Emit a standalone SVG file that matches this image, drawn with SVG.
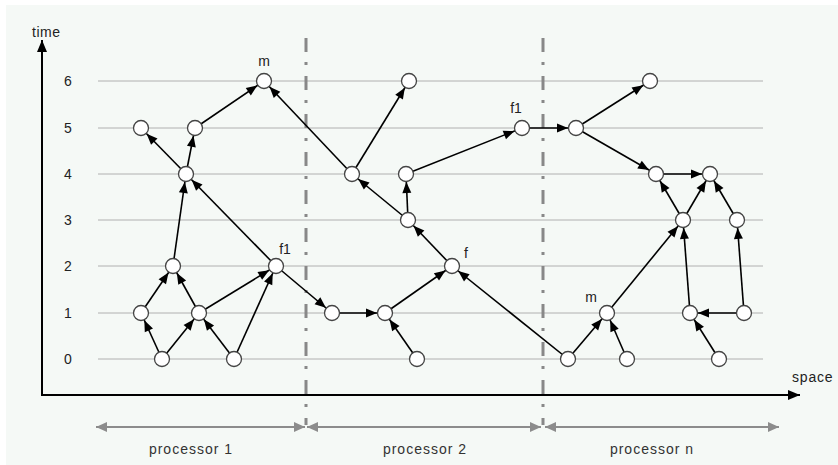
<svg xmlns="http://www.w3.org/2000/svg" width="838" height="465" viewBox="0 0 838 465">
<style>
.bg{fill:#f5f9f6}
.grid{stroke:#b0b0b0;stroke-width:1;fill:none}
.sep{stroke:#888;stroke-width:3;stroke-dasharray:14 10 3 11;fill:none}
.axis{stroke:#000;stroke-width:2;fill:none}
.span{stroke:#8c8c8c;stroke-width:2;fill:none}
.edge{stroke:#000;stroke-width:1.6;fill:none;marker-end:url(#ah)}
.node{fill:#fff;stroke:#444;stroke-width:1.3}
text{font-family:"Liberation Sans",Arial,sans-serif;font-size:14px;fill:#222}
.num{text-anchor:middle}
.proc{text-anchor:middle;fill:#333;letter-spacing:1px}
.lbl{text-anchor:middle}
</style>
<defs>
<marker id="ah" markerUnits="userSpaceOnUse" markerWidth="12" markerHeight="9" refX="19" refY="4.5" orient="auto" overflow="visible">
<path d="M0,0 L11,4.5 L0,9 z" fill="#000"/>
</marker>
<marker id="axh" markerUnits="userSpaceOnUse" markerWidth="12" markerHeight="10" refX="12" refY="5" orient="auto" overflow="visible">
<path d="M0,0 L12,5 L0,10 z" fill="#000"/>
</marker>
<marker id="gh" markerUnits="userSpaceOnUse" markerWidth="12" markerHeight="10" refX="11" refY="5" orient="auto" overflow="visible">
<path d="M0,0 L11,5 L0,10 z" fill="#8c8c8c"/>
</marker>
</defs>
<rect x="0" y="0" width="838" height="465" fill="#fff"/>
<rect class="bg" x="6" y="5" width="832" height="460"/>

<g id="grid">
<line class="grid" x1="98" y1="81" x2="763" y2="81"/>
<line class="grid" x1="98" y1="128" x2="763" y2="128"/>
<line class="grid" x1="98" y1="174" x2="763" y2="174"/>
<line class="grid" x1="98" y1="220" x2="763" y2="220"/>
<line class="grid" x1="98" y1="266" x2="763" y2="266"/>
<line class="grid" x1="98" y1="313" x2="763" y2="313"/>
<line class="grid" x1="98" y1="359" x2="763" y2="359"/>
</g>
<g id="ticks">
<text class="num" x="68" y="86">6</text>
<text class="num" x="68" y="133">5</text>
<text class="num" x="68" y="179">4</text>
<text class="num" x="68" y="225">3</text>
<text class="num" x="68" y="271">2</text>
<text class="num" x="68" y="318">1</text>
<text class="num" x="68" y="364">0</text>
</g>
<g id="separators">
<line class="sep" x1="306" y1="38" x2="306" y2="425"/>
<line class="sep" x1="543" y1="38" x2="543" y2="425"/>
</g>
<g id="axes">
<line class="axis" x1="42" y1="395" x2="42" y2="40" marker-end="url(#axh)"/>
<line class="axis" x1="41" y1="395" x2="800" y2="395" marker-end="url(#axh)"/>
<text x="32" y="37" letter-spacing="0.5">time</text>
<text x="792" y="382" letter-spacing="0.8">space</text>
</g>
<g id="spans">
<line class="span" x1="190" y1="427" x2="96" y2="427" marker-end="url(#gh)"/>
<line class="span" x1="190" y1="427" x2="305" y2="427" marker-end="url(#gh)"/>
<line class="span" x1="424" y1="427" x2="307" y2="427" marker-end="url(#gh)"/>
<line class="span" x1="424" y1="427" x2="541" y2="427" marker-end="url(#gh)"/>
<line class="span" x1="660" y1="427" x2="545" y2="427" marker-end="url(#gh)"/>
<line class="span" x1="660" y1="427" x2="779" y2="427" marker-end="url(#gh)"/>
<text class="proc" x="191" y="454">processor 1</text>
<text class="proc" x="425" y="454">processor 2</text>
<text class="proc" x="652" y="454">processor n</text>
</g>

<g id="connectors">
<line class="edge" x1="162" y1="359" x2="141" y2="313"/>
<line class="edge" x1="162" y1="359" x2="199" y2="313"/>
<line class="edge" x1="234" y1="359" x2="199" y2="313"/>
<line class="edge" x1="234" y1="359" x2="276" y2="266"/>
<line class="edge" x1="141" y1="313" x2="173" y2="266"/>
<line class="edge" x1="199" y1="313" x2="173" y2="266"/>
<line class="edge" x1="199" y1="313" x2="276" y2="266"/>
<line class="edge" x1="173" y1="266" x2="186" y2="174"/>
<line class="edge" x1="276" y1="266" x2="186" y2="174"/>
<line class="edge" x1="186" y1="174" x2="141" y2="128"/>
<line class="edge" x1="186" y1="174" x2="195" y2="128"/>
<line class="edge" x1="195" y1="128" x2="264" y2="81"/>
<line class="edge" x1="276" y1="266" x2="332" y2="313"/>
<line class="edge" x1="352" y1="174" x2="264" y2="81"/>
<line class="edge" x1="332" y1="313" x2="385" y2="313"/>
<line class="edge" x1="417" y1="359" x2="385" y2="313"/>
<line class="edge" x1="385" y1="313" x2="452" y2="266"/>
<line class="edge" x1="452" y1="266" x2="408" y2="220"/>
<line class="edge" x1="408" y1="220" x2="352" y2="174"/>
<line class="edge" x1="408" y1="220" x2="406" y2="174"/>
<line class="edge" x1="406" y1="174" x2="522" y2="128"/>
<line class="edge" x1="352" y1="174" x2="409" y2="81"/>
<line class="edge" x1="568" y1="359" x2="452" y2="266"/>
<line class="edge" x1="522" y1="128" x2="576" y2="128"/>
<line class="edge" x1="576" y1="128" x2="650" y2="81"/>
<line class="edge" x1="576" y1="128" x2="656" y2="174"/>
<line class="edge" x1="656" y1="174" x2="710" y2="174"/>
<line class="edge" x1="683" y1="220" x2="656" y2="174"/>
<line class="edge" x1="683" y1="220" x2="710" y2="174"/>
<line class="edge" x1="737" y1="220" x2="710" y2="174"/>
<line class="edge" x1="568" y1="359" x2="607" y2="313"/>
<line class="edge" x1="627" y1="359" x2="607" y2="313"/>
<line class="edge" x1="607" y1="313" x2="683" y2="220"/>
<line class="edge" x1="690" y1="313" x2="683" y2="220"/>
<line class="edge" x1="744" y1="313" x2="690" y2="313"/>
<line class="edge" x1="744" y1="313" x2="737" y2="220"/>
<line class="edge" x1="719" y1="359" x2="690" y2="313"/>
</g>

<g id="n1"><circle class="node" cx="162" cy="359" r="7.5"/></g>
<g id="n2"><circle class="node" cx="234" cy="359" r="7.5"/></g>
<g id="n3"><circle class="node" cx="141" cy="313" r="7.5"/></g>
<g id="n4"><circle class="node" cx="199" cy="313" r="7.5"/></g>
<g id="n5"><circle class="node" cx="173" cy="266" r="7.5"/></g>
<g id="n6"><circle class="node" cx="276" cy="266" r="7.5"/><text class="lbl" x="285" y="254">f1</text></g>
<g id="n7"><circle class="node" cx="186" cy="174" r="7.5"/></g>
<g id="n8"><circle class="node" cx="141" cy="128" r="7.5"/></g>
<g id="n9"><circle class="node" cx="195" cy="128" r="7.5"/></g>
<g id="n10"><circle class="node" cx="264" cy="81" r="7.5"/><text class="lbl" x="264" y="66">m</text></g>
<g id="n11"><circle class="node" cx="332" cy="313" r="7.5"/></g>
<g id="n12"><circle class="node" cx="385" cy="313" r="7.5"/></g>
<g id="n13"><circle class="node" cx="417" cy="359" r="7.5"/></g>
<g id="n14"><circle class="node" cx="452" cy="266" r="7.5"/><text class="lbl" x="466" y="258">f</text></g>
<g id="n15"><circle class="node" cx="408" cy="220" r="7.5"/></g>
<g id="n16"><circle class="node" cx="352" cy="174" r="7.5"/></g>
<g id="n17"><circle class="node" cx="406" cy="174" r="7.5"/></g>
<g id="n18"><circle class="node" cx="409" cy="81" r="7.5"/></g>
<g id="n19"><circle class="node" cx="522" cy="128" r="7.5"/><text class="lbl" x="516" y="113">f1</text></g>
<g id="n20"><circle class="node" cx="576" cy="128" r="7.5"/></g>
<g id="n21"><circle class="node" cx="650" cy="81" r="7.5"/></g>
<g id="n22"><circle class="node" cx="656" cy="174" r="7.5"/></g>
<g id="n23"><circle class="node" cx="710" cy="174" r="7.5"/></g>
<g id="n24"><circle class="node" cx="683" cy="220" r="7.5"/></g>
<g id="n25"><circle class="node" cx="737" cy="220" r="7.5"/></g>
<g id="n26"><circle class="node" cx="568" cy="359" r="7.5"/></g>
<g id="n27"><circle class="node" cx="607" cy="313" r="7.5"/><text class="lbl" x="591" y="302">m</text></g>
<g id="n28"><circle class="node" cx="627" cy="359" r="7.5"/></g>
<g id="n29"><circle class="node" cx="690" cy="313" r="7.5"/></g>
<g id="n30"><circle class="node" cx="744" cy="313" r="7.5"/></g>
<g id="n31"><circle class="node" cx="719" cy="359" r="7.5"/></g>
</svg>
